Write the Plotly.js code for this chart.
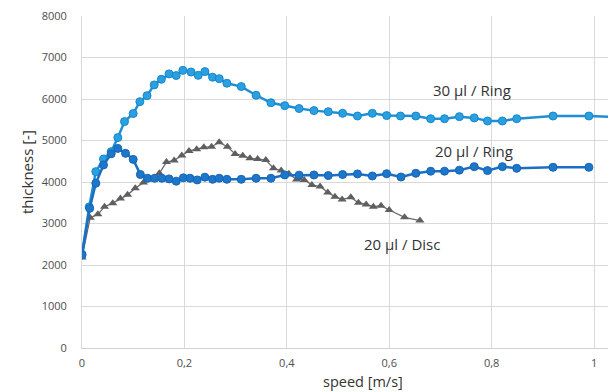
<!DOCTYPE html>
<html>
<head>
<meta charset="utf-8">
<script src="https://cdn.plot.ly/plotly-3.0.1.min.js"></script>
<style>html,body{margin:0;padding:0;background:#fff;}#chart{width:608px;height:392px;}</style>
</head>
<body>
<div id="chart"></div>
<script>
// 30 µl / Ring
const ring30X = [0, 0.014, 0.027, 0.042, 0.057, 0.070, 0.083, 0.100, 0.113, 0.127, 0.141, 0.155, 0.170, 0.184, 0.197, 0.213, 0.227, 0.240, 0.255, 0.268, 0.283, 0.311, 0.340, 0.369, 0.396, 0.424, 0.453, 0.481, 0.509, 0.538, 0.567, 0.595, 0.622, 0.652, 0.681, 0.708, 0.737, 0.766, 0.792, 0.821, 0.849, 0.920, 0.990, 1.06];
const ring30Y = [2260, 3400, 4250, 4555, 4730, 5070, 5455, 5650, 5935, 6080, 6340, 6475, 6605, 6565, 6690, 6650, 6570, 6660, 6525, 6490, 6380, 6300, 6090, 5910, 5840, 5770, 5720, 5695, 5655, 5590, 5655, 5600, 5590, 5590, 5525, 5525, 5575, 5545, 5470, 5470, 5525, 5590, 5590, 5560];
// 20 µl / Ring
const ring20X = [0, 0.015, 0.027, 0.042, 0.057, 0.070, 0.085, 0.100, 0.114, 0.128, 0.142, 0.156, 0.170, 0.184, 0.198, 0.211, 0.225, 0.240, 0.255, 0.268, 0.283, 0.311, 0.340, 0.369, 0.396, 0.424, 0.453, 0.481, 0.509, 0.538, 0.567, 0.595, 0.623, 0.652, 0.681, 0.708, 0.737, 0.766, 0.792, 0.821, 0.849, 0.920, 0.990];
const ring20Y = [2240, 3365, 3970, 4410, 4680, 4810, 4690, 4545, 4180, 4090, 4090, 4090, 4075, 4020, 4100, 4090, 4050, 4115, 4065, 4090, 4065, 4065, 4090, 4090, 4170, 4165, 4170, 4155, 4180, 4195, 4145, 4200, 4120, 4210, 4260, 4260, 4285, 4370, 4275, 4370, 4330, 4355, 4355];
// 20 µl / Disc
const discX = [0, 0.016, 0.031, 0.044, 0.060, 0.075, 0.089, 0.104, 0.120, 0.135, 0.151, 0.165, 0.180, 0.195, 0.209, 0.224, 0.238, 0.253, 0.268, 0.284, 0.299, 0.314, 0.328, 0.343, 0.359, 0.374, 0.389, 0.404, 0.419, 0.434, 0.449, 0.465, 0.480, 0.494, 0.508, 0.525, 0.540, 0.555, 0.569, 0.584, 0.600, 0.630, 0.660];
const discY = [2180, 3140, 3220, 3405, 3490, 3600, 3690, 3850, 3985, 4060, 4210, 4480, 4520, 4640, 4750, 4790, 4835, 4850, 4955, 4850, 4675, 4635, 4570, 4555, 4530, 4330, 4275, 4200, 4060, 4050, 3930, 3890, 3750, 3645, 3580, 3630, 3500, 3460, 3405, 3430, 3325, 3150, 3070];

const xTickVals = [0, 0.2, 0.4, 0.6, 0.8, 1];
const xTickText = ['0', '0,2', '0,4', '0,6', '0,8', '1'];
const yTickVals = [0, 1000, 2000, 3000, 4000, 5000, 6000, 7000, 8000];

const traces = [
  {x: discX, y: discY, mode: 'lines+markers', name: '20 µl / Disc',
   line: {color: '#6b6b6b', width: 1.3},
   marker: {symbol: 'triangle-up', size: 8, color: '#5f5f5f'}},
  {x: ring30X, y: ring30Y, mode: 'lines+markers', name: '30 µl / Ring',
   line: {color: '#1e8fd4', width: 2.5},
   marker: {symbol: 'circle', size: 8, color: '#29a0e0', line: {color: '#1a86cb', width: 1}}},
  {x: ring20X, y: ring20Y, mode: 'lines+markers', name: '20 µl / Ring',
   line: {color: '#1a6fc2', width: 2.5},
   marker: {symbol: 'circle', size: 8, color: '#1c76c9', line: {color: '#1766b5', width: 1}}}
];

// plot area in pixels: left 82, top 16, width 526, height 332
const px = v => (v - 82) / 526;
const py = v => (348 - v) / 332;

const layout = {
  width: 608, height: 392,
  margin: {l: 82, r: 0, t: 16, b: 44},
  showlegend: false,
  paper_bgcolor: '#fff', plot_bgcolor: '#fff',
  font: {family: '"Open Sans", sans-serif', color: '#595959'},
  xaxis: {range: [0, 1.0273], tickvals: xTickVals, ticktext: xTickText,
    showgrid: true, gridcolor: '#d9d9d9', gridwidth: 1, zeroline: false,
    showline: true, linecolor: '#d0d0d0', linewidth: 1,
    ticks: '', ticklabelstandoff: 5, tickfont: {size: 11, color: '#4d4d4d'}},
  yaxis: {range: [0, 8000], tickvals: yTickVals,
    showgrid: true, gridcolor: '#d9d9d9', gridwidth: 1, zeroline: false,
    showline: true, linecolor: '#d9d9d9', linewidth: 1,
    ticks: '', ticklabelstandoff: 12, tickfont: {size: 11, color: '#4d4d4d'}},
  annotations: [
    {text: '30 µl / Ring', xref: 'paper', yref: 'paper', x: px(472), y: py(90),
     showarrow: false, font: {size: 15, color: '#333333'}, xanchor: 'center', yanchor: 'middle'},
    {text: '20 µl / Ring', xref: 'paper', yref: 'paper', x: px(474), y: py(151),
     showarrow: false, font: {size: 15, color: '#333333'}, xanchor: 'center', yanchor: 'middle'},
    {text: '20 µl / Disc', xref: 'paper', yref: 'paper', x: px(402), y: py(244),
     showarrow: false, font: {size: 15, color: '#333333'}, xanchor: 'center', yanchor: 'middle'},
    {text: 'speed [m/s]', xref: 'paper', yref: 'paper', x: px(363), y: py(392),
     showarrow: false, font: {size: 14.5, color: '#333333'}, xanchor: 'center', yanchor: 'bottom', borderpad: 0},
    {text: 'thickness [-]', xref: 'paper', yref: 'paper', x: px(27), y: py(172),
     showarrow: false, textangle: -90, font: {size: 15, color: '#333333'}, xanchor: 'center', yanchor: 'middle'}
  ]
};

Plotly.newPlot('chart', traces, layout, {staticPlot: true, displayModeBar: false});
</script>
</body>
</html>
